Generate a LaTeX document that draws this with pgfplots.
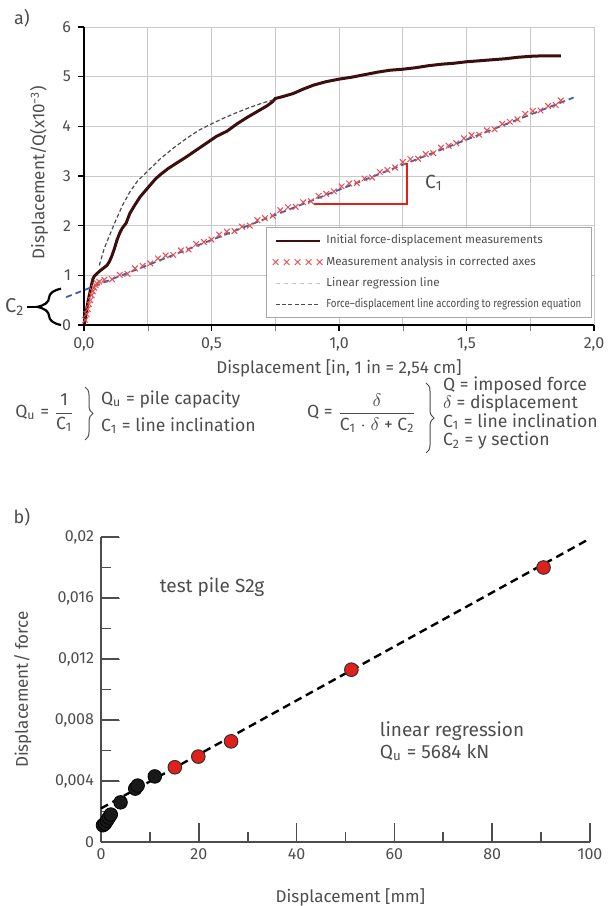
\documentclass[border=0pt]{standalone}
\usepackage{pgfplots}
\pgfplotsset{compat=1.18}
\usepackage{fontspec}
\setmainfont{Fira Sans}
\usetikzlibrary{decorations.pathreplacing}
\definecolor{txt}{HTML}{4D4D4D}
\definecolor{curve}{HTML}{3C0F0F}
\definecolor{cross}{HTML}{EE4B4B}
\definecolor{reg}{HTML}{3F5FA8}
\definecolor{gridc}{HTML}{C8C8C8}
\definecolor{dotred}{HTML}{E0201B}

\pgfplotsset{
  leg curve/.style={legend image code/.code={\draw[curve, line width=1.3pt] (0pt,0pt) -- (22pt,0pt);}},
  leg cross/.style={legend image code/.code={\draw[cross, only marks, mark=x, mark size=2pt, mark options={line width=0.5pt}] plot coordinates {(0pt,0pt) (5.5pt,0pt) (11pt,0pt) (16.5pt,0pt) (22pt,0pt)};}},
  leg lin/.style={legend image code/.code={\draw[gray!45, line width=0.6pt, dash pattern=on 2pt off 2pt] (0pt,0pt) -- (22pt,0pt);}},
  leg fd/.style={legend image code/.code={\draw[gray!60!black, line width=0.6pt, dash pattern=on 2pt off 1.2pt] (0pt,0pt) -- (22pt,0pt);}},
}

\begin{document}
\begin{tikzpicture}
\useasboundingbox (0pt,0pt) rectangle (304.5pt,453pt);

% ---------- a) ----------
\begin{axis}[
  at={(42pt,290.5pt)}, anchor=south west,
  scale only axis, width=255pt, height=149pt,
  xmin=0, xmax=2, ymin=0, ymax=6,
  clip=false,
  axis x line*=bottom, axis y line*=left, axis line style={-, black, line width=1pt},
  xtick={0,0.5,1,1.5,2}, minor xtick={0.25,0.75,1.25,1.75},
  ytick={0,1,2,3,4,5,6},
  grid=both, grid style={gridc, line width=0.5pt}, minor grid style={gridc, line width=0.5pt},
  xtick align=outside, ytick align=outside, major tick length=3pt,
  /pgf/number format/assume math mode=true,
  ticklabel style={font=\fontsize{8}{9}\selectfont, text=txt},
  xticklabel style={/pgf/number format/.cd, fixed, fixed zerofill, precision=1, use comma},
  xlabel={Displacement [in, 1 in = 2,54 cm]},
  xlabel style={at={(axis description cs:0.5,-0.145)}, anchor=center, font=\fontsize{8.5}{10}\selectfont, text=txt},
  ylabel={Displacement/Q(x10\textsuperscript{−3})},
  ylabel style={at={(axis description cs:-0.088,0.51)}, anchor=center, font=\fontsize{8.5}{10}\selectfont, text=txt},
  legend style={at={(axis description cs:0.996,0.023)}, anchor=south east, draw=gray!70, line width=0.5pt,
    fill=white, font=\fontsize{5.8}{6.5}\selectfont, text=txt, row sep=0.6pt, inner xsep=3pt, inner ysep=1.5pt},
  legend cell align=left,
]
\addplot[curve, line width=1.5pt, leg curve] coordinates {
(0,0) (0.005,0.12) (0.01,0.3) (0.015,0.45) (0.02,0.58) (0.025,0.7) (0.03,0.82) (0.035,0.93) (0.04,0.98)
(0.05,1.03) (0.06,1.08) (0.07,1.12) (0.08,1.16) (0.09,1.2) (0.1,1.28) (0.11,1.4) (0.12,1.55) (0.13,1.72)
(0.14,1.85) (0.15,1.95) (0.165,2.05) (0.18,2.25) (0.2,2.42) (0.22,2.58) (0.24,2.7) (0.26,2.82) (0.28,2.94)
(0.3,3.03) (0.33,3.15) (0.36,3.25) (0.4,3.38) (0.44,3.52) (0.48,3.66) (0.52,3.8) (0.56,3.9) (0.6,4.05)
(0.64,4.18) (0.68,4.3) (0.72,4.42) (0.74,4.5) (0.75,4.56) (0.78,4.6) (0.82,4.66) (0.86,4.75) (0.9,4.83)
(0.95,4.9) (1.0,4.95) (1.05,4.99) (1.1,5.04) (1.15,5.09) (1.2,5.13) (1.25,5.15) (1.3,5.18) (1.35,5.22)
(1.4,5.25) (1.45,5.27) (1.5,5.3) (1.55,5.32) (1.6,5.34) (1.65,5.36) (1.7,5.39) (1.75,5.41) (1.8,5.42) (1.87,5.42)
};
\addlegendentry{Initial force-displacement measurements}
\addplot[only marks, mark=x, mark size=2pt, cross, mark options={line width=0.5pt}, leg cross] coordinates {
(0.005,0.1) (0.01,0.22) (0.015,0.32) (0.02,0.42) (0.025,0.5) (0.03,0.6) (0.035,0.68) (0.04,0.75) (0.045,0.8)
(0.05,0.84) (0.06,0.87) (0.08,0.91) (0.11,0.92) (0.14,1.01) (0.17,1.03) (0.20,1.14) (0.23,1.19) (0.26,1.24)
(0.29,1.34) (0.32,1.40) (0.35,1.41) (0.38,1.50) (0.41,1.52) (0.44,1.63) (0.47,1.67) (0.50,1.72) (0.53,1.82)
(0.56,1.88) (0.59,1.89) (0.62,1.98) (0.65,2.00) (0.68,2.11) (0.71,2.15) (0.74,2.20) (0.77,2.31) (0.80,2.37)
(0.83,2.38) (0.86,2.47) (0.89,2.49) (0.92,2.60) (0.95,2.64) (0.98,2.69) (1.01,2.79) (1.04,2.85) (1.07,2.86)
(1.10,2.95) (1.13,2.97) (1.16,3.08) (1.19,3.12) (1.22,3.17) (1.25,3.28) (1.28,3.34) (1.31,3.35) (1.34,3.44)
(1.37,3.46) (1.40,3.57) (1.43,3.61) (1.46,3.66) (1.49,3.76) (1.52,3.82) (1.55,3.83) (1.58,3.92) (1.61,3.94)
(1.64,4.05) (1.67,4.09) (1.70,4.14) (1.73,4.25) (1.76,4.31) (1.79,4.32) (1.82,4.41) (1.85,4.43) (1.87,4.52)
};
\addlegendentry{Measurement analysis in corrected axes}
\addplot[reg, line width=0.9pt, dash pattern=on 3pt off 2pt, leg lin] coordinates {
(-0.07,0.56) (1.92,4.58)
};
\addlegendentry{Linear regression line}
\addplot[gray!60!black, line width=0.6pt, dash pattern=on 2pt off 1.2pt, leg fd] coordinates {
(0.06,1.2) (0.08,1.55) (0.1,1.8) (0.12,2.05) (0.15,2.4) (0.18,2.68) (0.21,2.9) (0.25,3.1) (0.3,3.35)
(0.35,3.56) (0.4,3.75) (0.45,3.92) (0.5,4.05) (0.55,4.17) (0.6,4.28) (0.65,4.38) (0.7,4.47) (0.74,4.53)
};
\addlegendentry{\scalebox{0.84}[1]{Force–displacement line according to regression equation}}
% tick marks
\pgfplotsinvokeforeach{0,0.5,1,1.5,2}{\draw[black, line width=0.8pt] (axis cs:#1,0) -- ([yshift=-3pt]axis cs:#1,0);}
\pgfplotsinvokeforeach{0,1,2,3,4,5,6}{\draw[black, line width=0.8pt] (axis cs:0,#1) -- ([xshift=-3pt]axis cs:0,#1);}
\draw[dotred, line width=1pt] (axis cs:0.9,2.44) -- (axis cs:1.265,2.44) -- (axis cs:1.265,3.27);
\node[anchor=west, text=txt, font=\fontsize{9.5}{10}\selectfont] at (axis cs:1.31,2.86) {C\textsubscript{1}};
\draw[black, line width=1.1pt, decorate, decoration={brace, amplitude=12pt}] (axis cs:-0.09,0) -- (axis cs:-0.09,0.73);
\draw[black, line width=1.1pt] (axis cs:-0.19,0.365) -- (axis cs:-0.225,0.365);
\node[anchor=east, text=txt, font=\fontsize{10}{11}\selectfont, inner sep=1pt] at (axis cs:-0.225,0.365) {C\textsubscript{2}};
\end{axis}
\node[text=txt, font=\fontsize{9}{10}\selectfont] at (11pt,444pt) {a)};

% ---------- equations ----------
\begin{scope}[every node/.style={text=txt, font=\fontsize{8.8}{11}\selectfont}]
\node at (22.5pt,246.5pt) {Q\textsubscript{u} = $\displaystyle\frac{\mbox{1}}{\mbox{C\textsubscript{1}}}$};
\draw[txt, line width=0.5pt, decorate, decoration={brace, amplitude=4pt}] (42.5pt,259.5pt) -- (42.5pt,233pt);
\node[anchor=west] at (47pt,253pt) {Q\textsubscript{u} = pile capacity};
\node[anchor=west] at (47pt,240pt) {C\textsubscript{1} = line inclination};
\node at (181pt,246.5pt) {Q = $\displaystyle\frac{\delta}{\mbox{C\textsubscript{1} $\cdot$ }\delta\mbox{ + C\textsubscript{2}}}$};
\draw[txt, line width=0.5pt, decorate, decoration={brace, amplitude=4pt}] (213pt,261.5pt) -- (213pt,226.5pt);
\node[anchor=west] at (218pt,260pt) {Q = imposed force};
\node[anchor=west] at (218pt,251pt) {$\delta$ = displacement};
\node[anchor=west] at (218pt,242pt) {C\textsubscript{1} = line inclination};
\node[anchor=west] at (218pt,232.5pt) {C\textsubscript{2} = y section};
\end{scope}

% ---------- b) ----------
\begin{axis}[
  at={(50.5pt,32pt)}, anchor=south west,
  scale only axis, width=244.5pt, height=152.5pt,
  xmin=0, xmax=100, ymin=0, ymax=0.02,
  clip=false,
  axis x line*=bottom, axis y line*=left, axis line style={-, txt, line width=1pt},
  xtick={0,20,40,60,80,100},
  ytick={0,0.004,0.008,0.012,0.016,0.02},
  xtick align=inside, ytick align=inside, major tick length=9.5pt,
  scaled y ticks=false,
  /pgf/number format/assume math mode=true,
  ticklabel style={font=\fontsize{8}{9}\selectfont, text=txt},
  yticklabel style={/pgf/number format/.cd, fixed, precision=3, use comma},
  xlabel={Displacement [mm]},
  xlabel style={at={(axis description cs:0.51,-0.18)}, anchor=center, font=\fontsize{8.5}{10}\selectfont, text=txt},
  ylabel={Displacement/ force},
  ylabel style={at={(axis description cs:-0.16,0.5)}, anchor=center, font=\fontsize{8.5}{10}\selectfont, text=txt},
]
% tick marks
\pgfplotsinvokeforeach{20,40,60,80,100}{\draw[txt, line width=0.9pt] (axis cs:#1,0) -- ([yshift=9.5pt]axis cs:#1,0);}
\pgfplotsinvokeforeach{10,30,50,70,90}{\draw[txt, line width=0.9pt] (axis cs:#1,0) -- ([yshift=5pt]axis cs:#1,0);}
\pgfplotsinvokeforeach{0.004,0.008,0.012,0.016,0.02}{\draw[txt, line width=0.9pt] (axis cs:0,#1) -- ([xshift=9pt]axis cs:0,#1);}
\pgfplotsinvokeforeach{0.002,0.006,0.01,0.014,0.018}{\draw[txt, line width=0.9pt] (axis cs:0,#1) -- ([xshift=5pt]axis cs:0,#1);}
\addplot[black, line width=1.2pt, dash pattern=on 4pt off 2.5pt] coordinates {(0,0.0022) (100,0.0199)};
\addplot[only marks, mark=*, mark size=3.4pt, mark options={fill=black!90, draw=black, line width=0.4pt}] coordinates {
(0.4,0.0011) (0.8,0.0012) (1.2,0.0014) (1.6,0.0016) (2.0,0.0018) (4.0,0.0026) (7.0,0.0035) (7.5,0.0037) (11,0.0043)
};
\addplot[only marks, mark=*, mark size=3.4pt, mark options={fill=dotred, draw=black!80, line width=0.5pt}] coordinates {
(15.1,0.0049) (19.9,0.0056) (26.6,0.0066) (51.2,0.0113) (90.5,0.018)
};
\node[text=txt, font=\fontsize{9.5}{11}\selectfont] at (axis cs:22.7,0.0167) {test pile S2g};
\node[anchor=west, align=left, text=txt, font=\fontsize{9.5}{11}\selectfont] at (axis cs:55.6,0.0066) {linear regression\\Q\textsubscript{u} = 5684 kN};
\end{axis}
\node[text=txt, font=\fontsize{9}{10}\selectfont] at (11pt,194.5pt) {b)};
\end{tikzpicture}
\end{document}
